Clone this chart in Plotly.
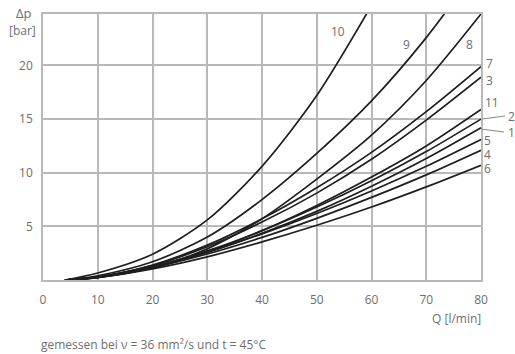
import plotly.graph_objects as go

# Flow rate Q [l/min]
Q = [4, 10, 20, 30, 40, 50, 60, 70, 80]

# Pressure drop Δp [bar] per characteristic curve
c10 = [0, 0.65, 2.4, 5.6, 10.6, 17.2, 25.6, None, None]
c9 = [0, 0.4, 1.7, 4.0, 7.5, 11.8, 16.7, 22.6, 29.5]
c8 = [0, 0.25, 1.15, 2.9, 5.7, 9.4, 13.5, 18.6, 24.8]
c7 = [0, 0.27, 1.4, 3.25, 5.7, 8.6, 11.9, 15.7, 19.9]
c3 = [0, 0.26, 1.34, 3.1, 5.4, 8.1, 11.25, 14.9, 18.9]
c11 = [0, 0.22, 1.13, 2.6, 4.6, 6.95, 9.6, 12.5, 15.9]
c2 = [0, 0.26, 1.24, 2.72, 4.6, 6.8, 9.25, 11.97, 15.0]
c1 = [0, 0.25, 1.17, 2.56, 4.35, 6.4, 8.75, 11.33, 14.2]
c5 = [0, 0.29, 1.27, 2.62, 4.3, 6.2, 8.3, 10.6, 13.1]
c4 = [0, 0.27, 1.17, 2.42, 3.97, 5.75, 7.7, 9.8, 12.1]
c6 = [0, 0.24, 1.04, 2.16, 3.55, 5.1, 6.8, 8.68, 10.7]

curve_names = ["10", "9", "8", "7", "3", "11", "2", "1", "5", "4", "6"]
curve_values = [c10, c9, c8, c7, c3, c11, c2, c1, c5, c4, c6]

x_ticks = [0, 10, 20, 30, 40, 50, 60, 70, 80]
y_ticks = [5, 10, 15, 20]

W, H = 515, 354
L, R, T, B = 43, 34, 14, 74
PW, PH = W - L - R, H - T - B

def px(x):
    return (x - L) / PW

def py(y):
    return (H - B - y) / PH

FONT = "Open Sans"
GREY = "#6e6e6e"
GRID = "#b9b9b9"

fig = go.Figure()
for name, vals in zip(curve_names, curve_values):
    fig.add_trace(go.Scatter(
        x=Q, y=vals, mode="lines", name=name,
        line=dict(color="#1e1e1e", width=1.7, shape="spline", smoothing=0.8),
        showlegend=False, hoverinfo="x+y+name",
    ))

# curve labels (pixel positions)
label_pos = {
    "10": (338, 31), "9": (406, 45), "8": (469, 45), "7": (489, 63),
    "3": (489, 81), "11": (492, 102), "2": (511, 116), "1": (511, 132),
    "5": (488, 140), "4": (488, 154), "6": (488, 168),
}
anns = []
for name, (lx, ly) in label_pos.items():
    anns.append(dict(text=name, x=px(lx), y=py(ly), xref="paper", yref="paper",
                     showarrow=False, xanchor="center", yanchor="middle",
                     height=11, borderpad=0,
                     font=dict(family=FONT, size=12, color=GREY)))

anns += [
    dict(text="Δp", x=px(24), y=py(13), xref="paper", yref="paper", showarrow=False,
         xanchor="center", yanchor="middle", font=dict(family=FONT, size=13, color=GREY)),
    dict(text="[bar]", x=px(22), y=py(30), xref="paper", yref="paper", showarrow=False,
         xanchor="center", yanchor="middle", font=dict(family=FONT, size=12, color=GREY)),
    dict(text="Q [l/min]", x=px(483), y=py(318), xref="paper", yref="paper", showarrow=False,
         xanchor="right", yanchor="middle", font=dict(family=FONT, size=12, color=GREY)),
    dict(text="gemessen bei ν = 36 mm²/s und t = 45°C", x=px(39), y=py(344),
         xref="paper", yref="paper", showarrow=False, xanchor="left", yanchor="middle",
         font=dict(family=FONT, size=12, color=GREY)),
]

shapes = [
    dict(type="line", xref="paper", yref="paper", x0=px(482), y0=py(119), x1=px(505), y1=py(116),
         line=dict(color="#888", width=1)),
    dict(type="line", xref="paper", yref="paper", x0=px(481), y0=py(129), x1=px(504), y1=py(132),
         line=dict(color="#888", width=1)),
]

fig.update_layout(
    width=W, height=H, margin=dict(l=L, r=R, t=T, b=B, pad=0),
    paper_bgcolor="white", plot_bgcolor="white",
    annotations=anns, shapes=shapes,
    font=dict(family=FONT, size=12, color=GREY),
)
fig.update_xaxes(range=[0, 80], tickvals=x_ticks, ticktext=[str(v) for v in x_ticks],
                 showgrid=True, gridcolor=GRID, gridwidth=1.5, zeroline=False,
                 showline=True, linecolor=GRID, linewidth=1.5, mirror=True,
                 ticks="", ticklabelstandoff=8, tickfont=dict(family=FONT, size=12, color=GREY))
fig.update_yaxes(range=[0, 24.8], tickvals=y_ticks, ticktext=[str(v) for v in y_ticks],
                 showgrid=True, gridcolor=GRID, gridwidth=1.5, zeroline=False,
                 showline=True, linecolor=GRID, linewidth=1.5, mirror=True,
                 ticks="", ticklabelstandoff=6, tickfont=dict(family=FONT, size=12, color=GREY))

fig.write_html("out.html", config={"displayModeBar": False},
               post_script="document.body.style.margin='0px';document.body.style.overflow='hidden';")
